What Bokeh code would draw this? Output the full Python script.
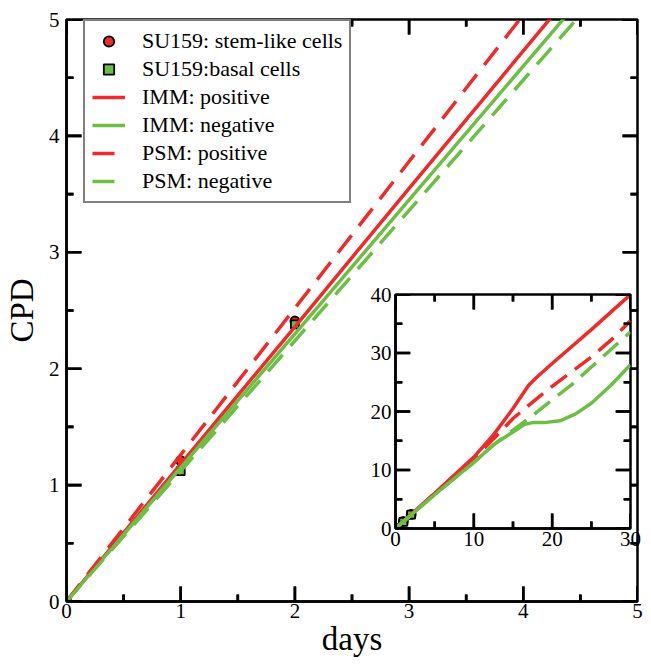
import math
from bokeh.plotting import figure
from bokeh.models import Range1d, SingleIntervalTicker, Legend, LegendItem
from bokeh.layouts import column
from bokeh.embed import file_html
from bokeh.resources import INLINE

# ---------------- data ----------------
# main panel (days 0-5)
days_main = [0, 1, 2, 3, 4, 5]
imm_pos_main = [0, 1.18, 2.36, 3.55, 4.73, 5.91]
imm_neg_main = [0, 1.15, 2.30, 3.45, 4.60, 5.75]
psm_pos_main = [0, 1.26, 2.52, 3.78, 5.04, 6.30]
psm_neg_main = [0, 1.12, 2.24, 3.36, 4.48, 5.60]

stem_days = [0, 1, 2]
stem_cpd = [0, 1.21, 2.41]
basal_days = [0, 1, 2]
basal_cpd = [0, 1.12, 2.38]

# inset panel (days 0-30)
imm_pos_days = [0, 5, 10, 12.5, 15, 17, 18, 20, 25, 30]
imm_pos_cpd = [0, 6.0, 12.2, 16.0, 20.5, 24.5, 25.8, 28.2, 34.0, 40.0]
imm_neg_days = [0, 5, 10, 12.5, 15, 16.5, 17.5, 19, 21, 23, 25, 27.5, 30]
imm_neg_cpd = [0, 5.8, 11.3, 14.3, 16.5, 17.8, 18.1, 18.1, 18.4, 19.6, 21.4, 24.5, 28.0]
psm_pos_days = [0, 5, 10, 12.5, 15, 17.5, 20, 22.5, 25, 27.5, 30]
psm_pos_cpd = [0, 6.0, 12.0, 15.3, 18.8, 21.6, 24.3, 26.8, 29.3, 32.2, 35.5]
psm_neg_days = [0, 5, 10, 12.5, 15, 17.5, 20, 22.5, 25, 27.5, 30]
psm_neg_cpd = [0, 5.8, 11.3, 14.3, 16.8, 19.3, 22.0, 24.6, 27.6, 30.6, 33.6]

main_ticks = [0, 1, 2, 3, 4, 5]
inset_x_ticks = [0, 10, 20, 30]
inset_y_ticks = [0, 10, 20, 30, 40]

RED = "#EE2A2A"
GREEN = "#6CBE45"
FONT = "Liberation Serif"
LW = 3.5
DASH = "22 12"
MAJ = 15
MIN = 7
TW = 2.6  # tick thickness, px


def minors(ticks):
    return [(a + b) / 2 for a, b in zip(ticks[:-1], ticks[1:])]


def style_axis(ax, standoff, size="21px"):
    ax.major_tick_in = 0
    ax.major_tick_out = 0
    ax.minor_tick_in = 0
    ax.minor_tick_out = 0
    ax.axis_line_width = 2.5
    ax.axis_line_color = "black"
    ax.major_label_text_font = FONT
    ax.major_label_text_font_size = size
    ax.major_label_text_color = "black"
    ax.major_label_standoff = standoff
    ax.axis_label_text_font = FONT
    ax.axis_label_text_font_size = "33px"
    ax.axis_label_text_font_style = "normal"
    ax.axis_label_text_color = "black"


def inward_ticks(fig, xt, yt, fw, fh):
    """Tick marks pointing into the frame; fw/fh = frame size in px."""
    x0, x1, y0, y1 = xt[0], xt[-1], yt[0], yt[-1]
    ux = (x1 - x0) / fw
    uy = (y1 - y0) / fh
    L, R, B, T = [], [], [], []
    for ticks, ln in ((xt, MAJ), (minors(xt), MIN)):
        for t in ticks:
            L += [t - TW / 2 * ux] * 2
            R += [t + TW / 2 * ux] * 2
            B += [y0, y1 - ln * uy]
            T += [y0 + ln * uy, y1]
    for ticks, ln in ((yt, MAJ), (minors(yt), MIN)):
        for t in ticks:
            L += [x0, x1 - ln * ux]
            R += [x0 + ln * ux, x1]
            B += [t - TW / 2 * uy] * 2
            T += [t + TW / 2 * uy] * 2
    fig.quad(left=L, right=R, bottom=B, top=T, fill_color="black", line_color=None)
    # same marks again as dash markers centred on the frame edge (outer half is clipped)
    kw = dict(marker="dash", line_color="black", line_width=TW)
    for ticks, ln in ((xt, MAJ), (minors(xt), MIN)):
        n = len(ticks)
        fig.scatter(ticks, [y0] * n, size=2 * ln, angle=math.pi / 2, **kw)
        fig.scatter(ticks, [y1] * n, size=2 * ln, angle=math.pi / 2, **kw)
    for ticks, ln in ((yt, MAJ), (minors(yt), MIN)):
        n = len(ticks)
        fig.scatter([x0] * n, ticks, size=2 * ln, angle=0, **kw)
        fig.scatter([x1] * n, ticks, size=2 * ln, angle=0, **kw)


# ---------------- main figure ----------------
W, H = 649, 664
BL, BR, BT, BB = 65, 2, 19, 63
p = figure(width=W, height=H, x_range=Range1d(0, 5), y_range=Range1d(0, 5),
           output_backend="svg", toolbar_location=None,
           min_border_left=BL, min_border_right=BR, min_border_top=BT, min_border_bottom=BB,
           x_axis_label="days", y_axis_label="CPD")
p.grid.visible = False
p.outline_line_color = "black"
p.outline_line_width = 2.5
p.background_fill_color = "white"
p.border_fill_color = "white"

p.xaxis.ticker = SingleIntervalTicker(interval=1, num_minor_ticks=0)
p.yaxis.ticker = SingleIntervalTicker(interval=1, num_minor_ticks=0)
style_axis(p.xaxis[0], 2)
style_axis(p.yaxis[0], 7)
p.xaxis.axis_label_standoff = 0
p.yaxis.axis_label_standoff = 6

FW, FH = W - BL - BR - 9, H - BT - BB
r_stem = p.scatter(stem_days, stem_cpd, marker="circle", size=9, fill_color=RED,
                   line_color="black", line_width=1.8)
r_basal = p.scatter(basal_days, basal_cpd, marker="square", size=8, fill_color=GREEN,
                    line_color="black", line_width=1.8)
r_imm_pos = p.line(days_main, imm_pos_main, line_color=RED, line_width=LW)
r_imm_neg = p.line(days_main, imm_neg_main, line_color=GREEN, line_width=LW)
r_psm_pos = p.line(days_main, psm_pos_main, line_color=RED, line_width=LW, line_dash=DASH)
r_psm_neg = p.line(days_main, psm_neg_main, line_color=GREEN, line_width=LW, line_dash=DASH)
inward_ticks(p, main_ticks, main_ticks, FW, FH)

legend = Legend(items=[
    LegendItem(label="SU159: stem-like cells", renderers=[r_stem]),
    LegendItem(label="SU159:basal cells", renderers=[r_basal]),
    LegendItem(label="IMM: positive", renderers=[r_imm_pos]),
    LegendItem(label="IMM: negative", renderers=[r_imm_neg]),
    LegendItem(label="PSM: positive", renderers=[r_psm_pos]),
    LegendItem(label="PSM: negative", renderers=[r_psm_neg]),
], location=(17, FH - 184))
legend.label_text_font = FONT
legend.label_text_font_size = "22px"
legend.label_text_color = "black"
legend.glyph_width = 33
legend.glyph_height = 26
legend.label_height = 26
legend.spacing = 2
legend.padding = 7
legend.label_standoff = 17
legend.margin = 0
legend.border_line_color = "black"
legend.border_line_width = 2
legend.background_fill_color = "white"
legend.background_fill_alpha = 1
p.add_layout(legend)

# ---------------- inset figure ----------------
IL, IR, IT, IB = 52, 12, 12, 28
IW, IH = IL + 249 + IR, IT + 234 + IB
q = figure(width=IW, height=IH, x_range=Range1d(0, 30), y_range=Range1d(0, 40),
           output_backend="svg", toolbar_location=None,
           min_border_left=IL, min_border_right=IR, min_border_top=IT, min_border_bottom=IB,
           styles={"position": "absolute", "left": f"{381 - IL}px", "top": f"{294 - IT}px"})
q.grid.visible = False
q.outline_line_color = "black"
q.outline_line_width = 2.5
q.background_fill_color = "white"
q.border_fill_color = None
q.border_fill_alpha = 0
q.xaxis.ticker = SingleIntervalTicker(interval=10, num_minor_ticks=0)
q.yaxis.ticker = SingleIntervalTicker(interval=10, num_minor_ticks=0)
style_axis(q.xaxis[0], 3)
style_axis(q.yaxis[0], 4)

q.scatter(stem_days, stem_cpd, marker="circle", size=9, fill_color=RED,
          line_color="black", line_width=1.8)
q.scatter(basal_days, basal_cpd, marker="square", size=8, fill_color=GREEN,
          line_color="black", line_width=1.8)
q.line(imm_pos_days, imm_pos_cpd, line_color=RED, line_width=LW)
q.line(imm_neg_days, imm_neg_cpd, line_color=GREEN, line_width=LW)
q.line(psm_pos_days, psm_pos_cpd, line_color=RED, line_width=LW, line_dash="20 10")
q.line(psm_neg_days, psm_neg_cpd, line_color=GREEN, line_width=LW, line_dash="20 10")
inward_ticks(q, inset_x_ticks, inset_y_ticks, 249, 234)

layout = column(p, q, styles={"position": "relative"})
open("out.html", "w").write(file_html(layout, INLINE))
